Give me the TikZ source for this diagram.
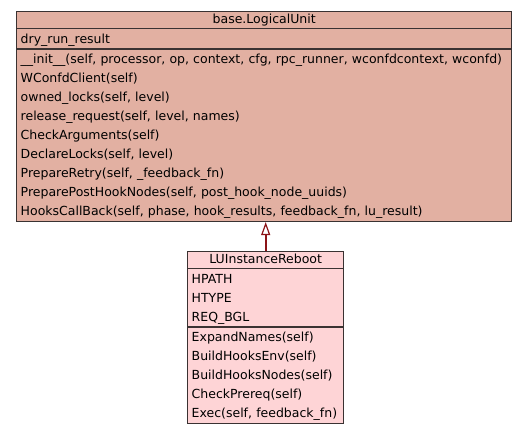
\documentclass[tikz,border=0pt]{standalone}
\usepackage{fontspec}
\setmainfont{DejaVu Sans}
\definecolor{lufill}{RGB}{226,176,162}
\definecolor{rebootfill}{RGB}{254,212,214}
\definecolor{umlborder}{RGB}{58,50,50}
\definecolor{inherit}{RGB}{140,20,24}
\usetikzlibrary{arrows.meta,positioning,shapes.multipart}
\newcommand{\umlrow}{\rule[-4.8pt]{0pt}{19pt}}
\newcommand{\umlhead}{\rule[-4.2pt]{0pt}{15.5pt}}
\tikzset{
  classbox/.style={rectangle split,rectangle split parts=3,
                   draw=umlborder,line width=1.4pt,text width=#1,
                   align=left,inner xsep=4pt,inner ysep=0pt,
                   font=\fontsize{12.5}{19}\selectfont},
  classbox/.default=3cm,
  inheritarrow/.style={-{Triangle[open,length=13pt,width=9pt,line width=1.2pt]},
                       line width=2pt,inherit},
}
\begin{document}
\begin{tikzpicture}[x=1pt,y=1pt]
  \useasboundingbox (0,0) rectangle (528,-435);
  \node[classbox=487pt,fill=lufill,anchor=north west] (lu) at (16,-11)
    {\centering\umlhead base.LogicalUnit\par
     \nodepart{two}\umlrow dry\_run\_result
     \nodepart{three}\umlrow \_\_init\_\_(self, processor, op, context, cfg, rpc\_runner, wconfdcontext, wconfd)\\
     \umlrow WConfdClient(self)\\
     \umlrow owned\_locks(self, level)\\
     \umlrow release\_request(self, level, names)\\
     \umlrow CheckArguments(self)\\
     \umlrow DeclareLocks(self, level)\\
     \umlrow PrepareRetry(self, \_feedback\_fn)\\
     \umlrow PreparePostHookNodes(self, post\_hook\_node\_uuids)\\
     \umlrow HooksCallBack(self, phase, hook\_results, feedback\_fn, lu\_result)};
  \node[classbox=148pt,fill=rebootfill,below=29pt of lu,xshift=1.5pt] (reboot)
    {\centering\umlhead LUInstanceReboot\par
     \nodepart{two}\umlrow HPATH\\
     \umlrow HTYPE\\
     \umlrow REQ\_BGL
     \nodepart{three}\umlrow ExpandNames(self)\\
     \umlrow BuildHooksEnv(self)\\
     \umlrow BuildHooksNodes(self)\\
     \umlrow CheckPrereq(self)\\
     \umlrow Exec(self, feedback\_fn)};
  \draw[inheritarrow] (reboot.north) -- (reboot.north |- lu.south);
\end{tikzpicture}
\end{document}
